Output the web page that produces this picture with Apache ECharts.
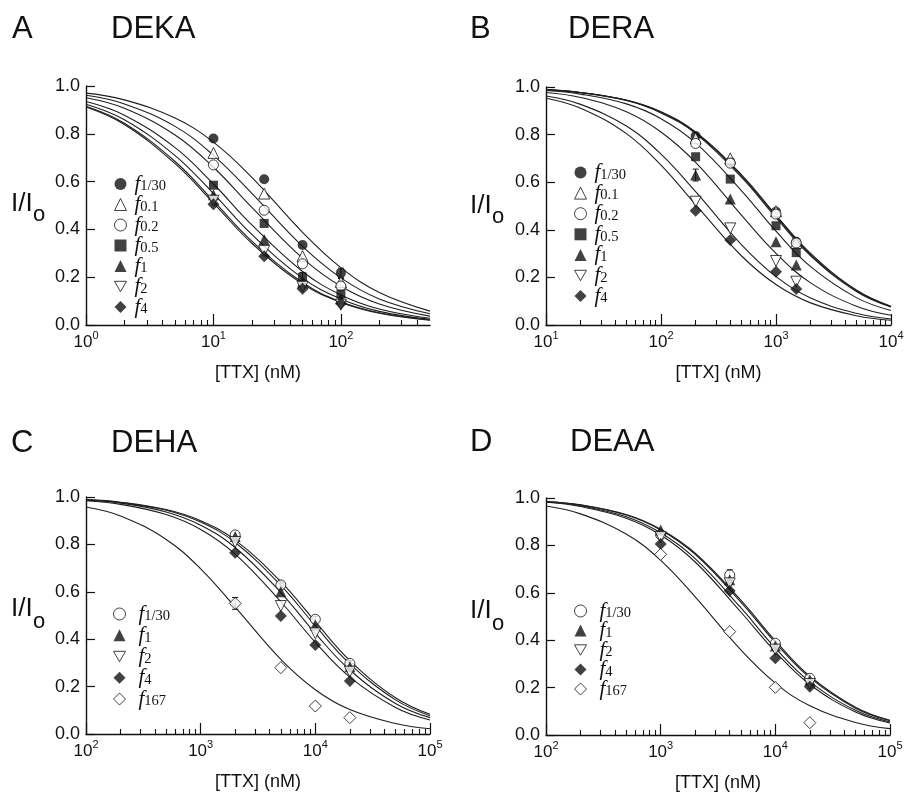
<!DOCTYPE html>
<html><head><meta charset="utf-8">
<script src="https://cdn.jsdelivr.net/npm/echarts@6/dist/echarts.min.js"></script>
<style>html,body{margin:0;padding:0;background:#fff}#c{width:909px;height:794px}</style>
</head><body><div id="c"></div>
<script>
// ---------- DATA ----------
// Panel A (DEKA)
const A_conc = [10, 25, 50, 100];
const A_f1_30 = [0.78, 0.61, 0.335, 0.218];
const A_f0_1  = [0.72, 0.55, 0.288, 0.18];
const A_f0_2  = [0.67, 0.48, 0.256, 0.163];
const A_f0_5  = [0.585, 0.425, 0.20, 0.13];
const A_f1    = [0.545, 0.358, 0.18, 0.11];
const A_f2    = [0.52, 0.31, 0.16, 0.085];
const A_f4    = [0.505, 0.288, 0.152, 0.09];
const A_fitX = [1, 2, 5, 10, 20, 50, 100, 200, 500];
const A_fit_f1_30 = [0.970, 0.942, 0.866, 0.765, 0.618, 0.388, 0.240, 0.136, 0.058];
const A_fit_f0_1  = [0.961, 0.925, 0.831, 0.710, 0.551, 0.329, 0.197, 0.109, 0.047];
const A_fit_f0_2  = [0.951, 0.907, 0.795, 0.660, 0.492, 0.280, 0.162, 0.088, 0.037];
const A_fit_f0_5  = [0.935, 0.878, 0.742, 0.590, 0.419, 0.224, 0.126, 0.067, 0.028];
const A_fit_f1    = [0.924, 0.859, 0.709, 0.550, 0.379, 0.196, 0.109, 0.057, 0.024];
const A_fit_f2    = [0.915, 0.844, 0.684, 0.519, 0.351, 0.178, 0.097, 0.051, 0.021];
const A_fit_f4    = [0.912, 0.839, 0.675, 0.510, 0.342, 0.172, 0.094, 0.049, 0.020];
const A_err = [[100, 0.218, 0.02], [100, 0.18, 0.015], [50, 0.20, 0.02]];
const A_ticks = [1, 10, 100];
const A_minor = [2,3,4,5,6,7,8,9,20,30,40,50,60,70,80,90,200,300,400];

// Panel B (DERA)
const B_conc = [200, 400, 1000, 1500];
const B_f1_30 = [0.794, 0.686, 0.476, 0.35];
const B_f0_1  = [0.785, 0.70, 0.478, 0.345];
const B_f0_2  = [0.763, 0.68, 0.466, 0.345];
const B_f0_5  = [0.707, 0.613, 0.417, 0.304];
const B_f1    = [0.63, 0.529, 0.35, 0.252];
const B_f2    = [0.518, 0.406, 0.269, 0.182];
const B_f4    = [0.48, 0.357, 0.224, 0.151];
const B_fitX = [10, 20, 50, 100, 200, 500, 1000, 2000, 5000, 10000];
const B_fit_f1_30 = [0.989, 0.977, 0.945, 0.896, 0.811, 0.632, 0.462, 0.301, 0.147, 0.079];
const B_fit_f0_1  = [0.988, 0.977, 0.944, 0.894, 0.808, 0.627, 0.457, 0.296, 0.144, 0.077];
const B_fit_f0_2  = [0.988, 0.976, 0.943, 0.891, 0.804, 0.621, 0.451, 0.291, 0.141, 0.076];
const B_fit_f0_5  = [0.985, 0.970, 0.929, 0.867, 0.765, 0.565, 0.394, 0.245, 0.115, 0.061];
const B_fit_f1    = [0.977, 0.956, 0.896, 0.811, 0.683, 0.462, 0.301, 0.177, 0.079, 0.041];
const B_fit_f2    = [0.962, 0.927, 0.836, 0.718, 0.560, 0.338, 0.203, 0.113, 0.049, 0.025];
const B_fit_f4    = [0.953, 0.911, 0.804, 0.672, 0.506, 0.291, 0.170, 0.093, 0.039, 0.020];
const B_err = [[200, 0.63, 0.025]];
const B_ticks = [10, 100, 1000, 10000];
const B_minor = [20,30,40,50,60,70,80,90,200,300,400,500,600,700,800,900,2000,3000,4000,5000,6000,7000,8000,9000];

// Panel C (DEHA)
const C_conc = [2000, 5000, 10000, 20000];
const C_f1_30 = [0.84, 0.629, 0.484, 0.298];
const C_f1    = [0.833, 0.60, 0.46, 0.284];
const C_f2    = [0.81, 0.54, 0.425, 0.263];
const C_f4    = [0.765, 0.498, 0.376, 0.224];
const C_f167  = [0.551, 0.28, 0.118, 0.069];
const C_fitX = [100, 200, 500, 1000, 2000, 5000, 10000, 20000, 50000, 100000];
const C_fit_f1_30 = [0.989, 0.978, 0.947, 0.900, 0.818, 0.643, 0.474, 0.310, 0.153, 0.083];
const C_fit_f1    = [0.988, 0.977, 0.944, 0.894, 0.808, 0.627, 0.457, 0.296, 0.144, 0.077];
const C_fit_f2    = [0.987, 0.974, 0.937, 0.881, 0.787, 0.597, 0.425, 0.270, 0.129, 0.069];
const C_fit_f4    = [0.984, 0.969, 0.926, 0.863, 0.759, 0.558, 0.387, 0.240, 0.112, 0.059];
const C_fit_f167  = [0.958, 0.920, 0.821, 0.697, 0.535, 0.315, 0.187, 0.103, 0.044, 0.022];
const C_err = [[2000, 0.551, 0.025], [5000, 0.629, 0.012], [10000, 0.484, 0.012], [20000, 0.298, 0.012]];
const C_ticks = [100, 1000, 10000, 100000];
const C_minor = [200,300,400,500,600,700,800,900,2000,3000,4000,5000,6000,7000,8000,9000,20000,30000,40000,50000,60000,70000,80000,90000];

// Panel D (DEAA)
const D_conc = [1000, 4000, 10000, 20000];
const D_f1_30 = [0.845, 0.675, 0.387, 0.239];
const D_f1    = [0.865, 0.655, 0.376, 0.232];
const D_f2    = [0.835, 0.64, 0.36, 0.215];
const D_f4    = [0.806, 0.609, 0.324, 0.204];
const D_f167  = [0.762, 0.436, 0.201, 0.052];
const D_fitX = [100, 200, 500, 1000, 2000, 5000, 10000, 20000, 50000, 100000];
const D_fit_f1_30 = [0.985, 0.971, 0.930, 0.868, 0.767, 0.569, 0.398, 0.248, 0.117, 0.062];
const D_fit_f1    = [0.985, 0.970, 0.928, 0.865, 0.762, 0.561, 0.390, 0.242, 0.113, 0.060];
const D_fit_f2    = [0.983, 0.967, 0.921, 0.853, 0.744, 0.537, 0.367, 0.225, 0.104, 0.055];
const D_fit_f4    = [0.982, 0.964, 0.915, 0.844, 0.730, 0.519, 0.351, 0.213, 0.097, 0.051];
const D_fit_f167  = [0.966, 0.933, 0.848, 0.737, 0.583, 0.359, 0.219, 0.123, 0.053, 0.027];
const D_err = [[4000, 0.675, 0.022], [1000, 0.845, 0.012]];
const D_ticks = [100, 1000, 10000, 100000];
const D_minor = C_minor;

// ---------- PANEL DEFINITIONS ----------
const INV_TRI = 'path://M0,0L12,0L6,10.4Z';
const MK = {
  fcircle:  {symbol:'circle', size:10, fill:true, rot:0, icon:'circle'},
  ocircle:  {symbol:'circle', size:10, fill:false, rot:0, icon:'circle'},
  ftri:     {symbol:'triangle', size:11, fill:true, rot:0, icon:'triangle'},
  otri:     {symbol:'triangle', size:11, fill:false, rot:0, icon:'triangle'},
  oinv:     {symbol:'triangle', size:11, fill:false, rot:180, icon:INV_TRI},
  fsq:      {symbol:'rect', size:9, fill:true, rot:0, icon:'rect'},
  fdia:     {symbol:'diamond', size:12, fill:true, rot:0, icon:'diamond'},
  odia:     {symbol:'diamond', size:12, fill:false, rot:0, icon:'diamond'}
};

const panels = [
  {id:'A', title:'DEKA', grid:{left:86, top:86, width:344, height:239}, xmin:1, xmax:500,
   ticks:A_ticks, minor:A_minor, conc:A_conc, fitX:A_fitX, err:A_err,
   legend:{left:114, top:173.5, gap:-0.5, pad:3},
   letterPos:[12, 29], titlePos:[111, 29], ylab:[11, 204, 33, 214.5],
   series:[
     {sub:'1/30', mk:'fcircle', pts:A_f1_30, fit:A_fit_f1_30},
     {sub:'0.1',  mk:'otri',    pts:A_f0_1,  fit:A_fit_f0_1},
     {sub:'0.2',  mk:'ocircle', pts:A_f0_2,  fit:A_fit_f0_2},
     {sub:'0.5',  mk:'fsq',     pts:A_f0_5,  fit:A_fit_f0_5},
     {sub:'1',    mk:'ftri',    pts:A_f1,    fit:A_fit_f1},
     {sub:'2',    mk:'oinv',    pts:A_f2,    fit:A_fit_f2},
     {sub:'4',    mk:'fdia',    pts:A_f4,    fit:A_fit_f4}
   ]},
  {id:'B', title:'DERA', grid:{left:546, top:87, width:345, height:238}, xmin:10, xmax:10000,
   ticks:B_ticks, minor:B_minor, conc:B_conc, fitX:B_fitX, err:B_err,
   legend:{left:574, top:162, gap:-0.4, pad:3},
   letterPos:[470, 29], titlePos:[568, 29], ylab:[470, 206, 492, 216.5],
   series:[
     {sub:'1/30', mk:'fcircle', pts:B_f1_30, fit:B_fit_f1_30},
     {sub:'0.1',  mk:'otri',    pts:B_f0_1,  fit:B_fit_f0_1},
     {sub:'0.2',  mk:'ocircle', pts:B_f0_2,  fit:B_fit_f0_2},
     {sub:'0.5',  mk:'fsq',     pts:B_f0_5,  fit:B_fit_f0_5},
     {sub:'1',    mk:'ftri',    pts:B_f1,    fit:B_fit_f1},
     {sub:'2',    mk:'oinv',    pts:B_f2,    fit:B_fit_f2},
     {sub:'4',    mk:'fdia',    pts:B_f4,    fit:B_fit_f4}
   ]},
  {id:'C', title:'DEHA', grid:{left:86, top:497, width:344, height:237}, xmin:100, xmax:100000,
   ticks:C_ticks, minor:C_minor, conc:C_conc, fitX:C_fitX, err:C_err,
   legend:{left:113, top:603.5, gap:0.25, pad:8},
   letterPos:[11, 443], titlePos:[111, 443], ylab:[11, 609, 33, 622],
   series:[
     {sub:'1/30', mk:'ocircle', pts:C_f1_30, fit:C_fit_f1_30},
     {sub:'1',    mk:'ftri',    pts:C_f1,    fit:C_fit_f1},
     {sub:'2',    mk:'oinv',    pts:C_f2,    fit:C_fit_f2},
     {sub:'4',    mk:'fdia',    pts:C_f4,    fit:C_fit_f4},
     {sub:'167',  mk:'odia',    pts:C_f167,  fit:C_fit_f167}
   ]},
  {id:'D', title:'DEAA', grid:{left:546, top:498, width:344, height:237}, xmin:100, xmax:100000,
   ticks:D_ticks, minor:D_minor, conc:D_conc, fitX:D_fitX, err:D_err,
   legend:{left:574, top:600.5, gap:-1.5, pad:8},
   letterPos:[470, 442], titlePos:[570, 442], ylab:[470, 611, 492, 624],
   series:[
     {sub:'1/30', mk:'ocircle', pts:D_f1_30, fit:D_fit_f1_30},
     {sub:'1',    mk:'ftri',    pts:D_f1,    fit:D_fit_f1},
     {sub:'2',    mk:'oinv',    pts:D_f2,    fit:D_fit_f2},
     {sub:'4',    mk:'fdia',    pts:D_f4,    fit:D_fit_f4},
     {sub:'167',  mk:'odia',    pts:D_f167,  fit:D_fit_f167}
   ]}
];

// ---------- BUILD OPTION ----------
const INK = '#111111';
const SANS = 'Liberation Sans, Arial, sans-serif';
const SERIF = 'Liberation Serif, Times New Roman, serif';
const subOf = {};
const grids = [], xAxes = [], yAxes = [], series = [], legends = [], graphics = [];

panels.forEach((p, i) => {
  grids.push(Object.assign({containLabel:false}, p.grid));
  xAxes.push({
    type:'log', logBase:10, gridIndex:i, min:p.xmin, max:p.xmax, position:'bottom',
    axisLine:{show:true, onZero:false, lineStyle:{color:INK, width:1.4}},
    axisTick:{show:true, inside:true, length:11, customValues:p.ticks, lineStyle:{color:INK, width:1.2}},
    axisLabel:{show:true, customValues:p.ticks, margin:5, color:INK, showMinLabel:true, showMaxLabel:true,
      formatter: v => '{b|10}{s|' + Math.round(Math.log10(v)) + '}',
      rich:{ b:{fontFamily:SANS, fontSize:17, lineHeight:24, color:INK},
             s:{fontFamily:SANS, fontSize:11, lineHeight:10, verticalAlign:'top', color:INK} }},
    splitLine:{show:false}, minorTick:{show:false},
    name:'[TTX] (nM)', nameLocation:'middle', nameGap:39,
    nameTextStyle:{fontFamily:SANS, fontSize:18, color:INK}
  });
  xAxes.push({
    type:'log', logBase:10, gridIndex:i, min:p.xmin, max:p.xmax, position:'bottom',
    axisLine:{show:false},
    axisTick:{show:true, inside:true, length:5, customValues:p.minor, lineStyle:{color:INK, width:1.1}},
    axisLabel:{show:false}, splitLine:{show:false}
  });
  yAxes.push({
    type:'value', gridIndex:i, min:0, max:1, interval:0.2,
    axisLine:{show:true, onZero:false, lineStyle:{color:INK, width:1.4}},
    axisTick:{show:true, inside:true, length:9, lineStyle:{color:INK, width:1.2}},
    axisLabel:{show:true, margin:6, color:INK, fontFamily:SANS, fontSize:18, formatter: v => v.toFixed(1)},
    splitLine:{show:false}
  });

  const legendData = [];
  p.series.forEach(s => {
    const m = MK[s.mk];
    const nm = p.id + ' f' + s.sub;
    subOf[nm] = s.sub;
    const style = {color: m.fill ? INK : '#ffffff', borderColor:INK, borderWidth: m.fill ? 0 : 1};
    legendData.push({name:nm, icon:m.icon, itemStyle:style});
    series.push({
      type:'line', name: nm + ' fit', xAxisIndex:2*i, yAxisIndex:i,
      data: p.fitX.map((x, j) => [x, s.fit[j]]),
      smooth:0.4, symbol:'none', showSymbol:false, silent:true,
      lineStyle:{color:'#1e1e1e', width:1.1}, z:2, animation:false
    });
    series.push({
      type:'scatter', name:nm, xAxisIndex:2*i, yAxisIndex:i,
      data: p.conc.map((x, j) => [x, s.pts[j]]),
      symbol:m.symbol, symbolSize:m.size, symbolRotate:m.rot,
      itemStyle:style, z:5, silent:true, animation:false
    });
  });
  series.push({
    type:'custom', xAxisIndex:2*i, yAxisIndex:i, coordinateSystem:'cartesian2d',
    data:p.err, encode:{x:0, y:1}, z:3, silent:true, animation:false,
    renderItem:(params, api) => {
      const x = api.value(0), y = api.value(1), e = api.value(2);
      const a = api.coord([x, y + e]), b = api.coord([x, y - e]);
      const st = {stroke:INK, lineWidth:1};
      return {type:'group', children:[
        {type:'line', shape:{x1:a[0], y1:a[1], x2:b[0], y2:b[1]}, style:st},
        {type:'line', shape:{x1:a[0]-3, y1:a[1], x2:a[0]+3, y2:a[1]}, style:st},
        {type:'line', shape:{x1:b[0]-3, y1:b[1], x2:b[0]+3, y2:b[1]}, style:st}
      ]};
    }
  });

  legends.push({
    data:legendData, orient:'vertical', left:p.legend.left, top:p.legend.top, padding:0,
    itemWidth:12, itemHeight:12, itemGap:p.legend.gap, selectedMode:false,
    formatter: n => '{i|f}{s|' + subOf[n] + '}',
    textStyle:{color:INK, rich:{
      i:{fontFamily:SERIF, fontStyle:'italic', fontSize:21, lineHeight:20, color:INK, padding:[0,0,0,p.legend.pad]},
      s:{fontFamily:SERIF, fontSize:14.5, lineHeight:6, verticalAlign:'bottom', color:INK}
    }}
  });

  graphics.push({type:'text', x:p.letterPos[0], y:p.letterPos[1],
    style:{text:p.id, font:'31px ' + SANS, fill:INK, textAlign:'left', textVerticalAlign:'middle'}});
  graphics.push({type:'text', x:p.titlePos[0], y:p.titlePos[1],
    style:{text:p.title, font:'31px ' + SANS, fill:INK, textAlign:'left', textVerticalAlign:'middle'}});
  graphics.push({type:'text', x:p.ylab[0], y:p.ylab[1],
    style:{text:'I/I', font:'26px ' + SANS, fill:INK, textAlign:'left', textVerticalAlign:'middle'}});
  graphics.push({type:'text', x:p.ylab[2], y:p.ylab[3],
    style:{text:'o', font:'22px ' + SANS, fill:INK, textAlign:'left', textVerticalAlign:'middle'}});
});

const chart = echarts.init(document.getElementById('c'), null, {renderer:'canvas'});
chart.setOption({
  backgroundColor:'#ffffff', animation:false,
  grid:grids, xAxis:xAxes, yAxis:yAxes, series:series, legend:legends, graphic:graphics
});
</script></body></html>
